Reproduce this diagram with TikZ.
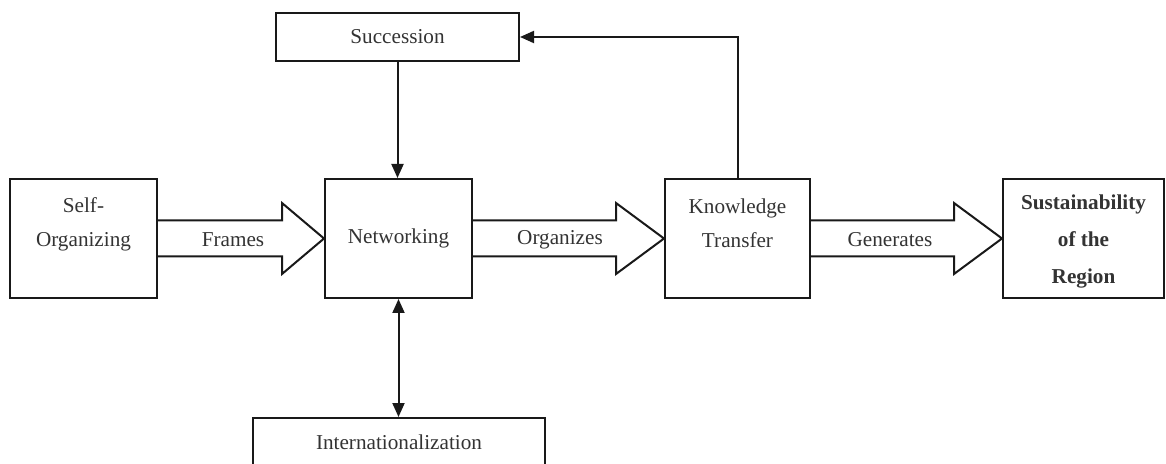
\documentclass[tikz,border=0pt]{standalone}
\usepackage{fontspec}
\setmainfont{Liberation Serif}
\usetikzlibrary{calc,arrows.meta}
\begin{document}
\begin{tikzpicture}[x=0.5pt,y=-0.5pt,
  txt/.style={text=black!80, font=\fontsize{10.6}{17}\selectfont},
  box/.style={draw=black!90, line width=1pt, inner sep=0pt, align=center, txt},
  lbl/.style={inner sep=0pt, align=center, txt},
  link/.style={draw=black!90, line width=1pt, -{Triangle[length=7pt,width=6pt]}},
  link2/.style={draw=black!90, line width=1pt, {Triangle[length=7pt,width=6pt]}-{Triangle[length=7pt,width=6pt]}},
  fat/.style={draw=black!90, line width=1pt, fill=white, line join=miter}]
\useasboundingbox (0,0) rectangle (1166,464);
\clip (0,0) rectangle (1166,464);

% boxes
\node[box, minimum width=73.5pt, minimum height=59.5pt] (self) at (83.5,238.5) {};
\node[lbl] (selftxt) at (83.5,224.5) {Self-\\Organizing};
\node[box, minimum width=73.5pt, minimum height=59.5pt] (net) at (398.5,238.5) {Networking};
\node[box, minimum width=72.5pt, minimum height=59.5pt] (kt) at (737.5,238.5) {};
\node[lbl] (kttxt) at (737.5,223.5) {Knowledge\\Transfer};
\node[box, minimum width=80.5pt, minimum height=59.5pt] (sus) at (1083.5,238.5) {};
\node[lbl, font=\fontsize{10.6}{18.5}\selectfont\bfseries] (sustxt) at (1083.5,241)
  {Sustainability\\of the\\Region};
\node[box, minimum width=121.5pt, minimum height=24pt] (succ) at (397.5,37) {Succession};
\node[box, minimum width=146pt, minimum height=24pt] (intl) at (399,442) {Internationalization};

% thin connectors
\draw[link] (succ.south) -- (succ.south |- net.north);
\draw[link2] (net.south) -- (net.south |- intl.north);
\draw[link] (kt.north) |- (succ.east);

% block arrows
\draw[fat] ($(self.east)+(0,-18)$) -- ($(net.west)+(-42,-18)$) -- ($(net.west)+(-42,-35.5)$)
  -- (net.west) -- ($(net.west)+(-42,35.5)$) -- ($(net.west)+(-42,18)$) -- ($(self.east)+(0,18)$);
\draw[fat] ($(net.east)+(0,-18)$) -- ($(kt.west)+(-48,-18)$) -- ($(kt.west)+(-48,-35.5)$)
  -- (kt.west) -- ($(kt.west)+(-48,35.5)$) -- ($(kt.west)+(-48,18)$) -- ($(net.east)+(0,18)$);
\draw[fat] ($(kt.east)+(0,-18)$) -- ($(sus.west)+(-48,-18)$) -- ($(sus.west)+(-48,-35.5)$)
  -- (sus.west) -- ($(sus.west)+(-48,35.5)$) -- ($(sus.west)+(-48,18)$) -- ($(kt.east)+(0,18)$);

\node[lbl] (frames) at (233,240) {Frames};
\node[lbl] (organizes) at (560,240) {Organizes};
\node[lbl] (generates) at (890,240) {Generates};
\end{tikzpicture}
\end{document}
